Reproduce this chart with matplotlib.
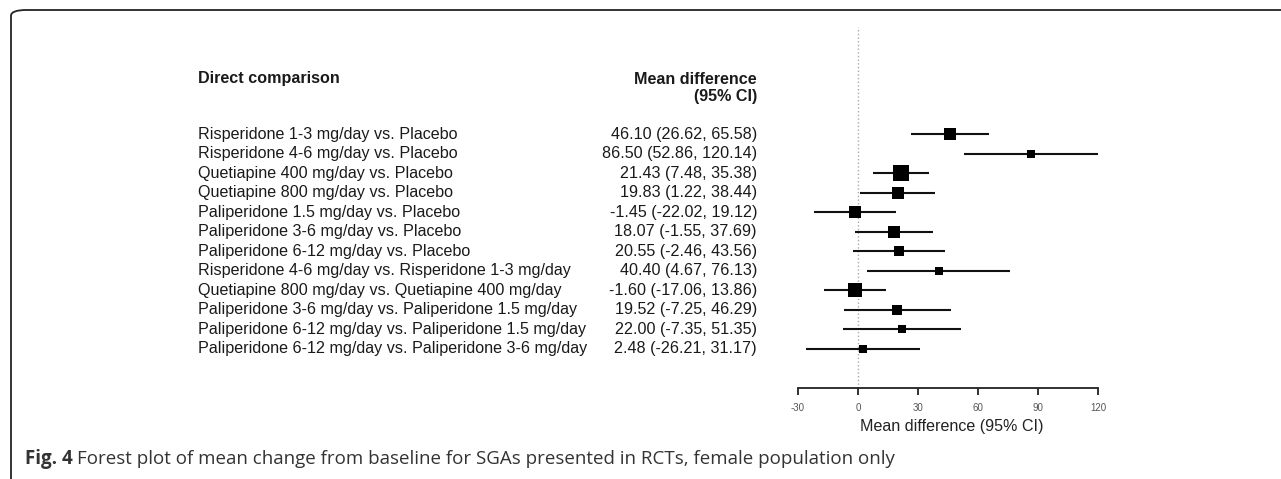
import matplotlib
matplotlib.use("Agg")
import matplotlib.pyplot as plt
from matplotlib.patches import FancyBboxPatch
from matplotlib.transforms import blended_transform_factory
import numpy as np

comparisons = [
    "Risperidone 1-3 mg/day vs. Placebo",
    "Risperidone 4-6 mg/day vs. Placebo",
    "Quetiapine 400 mg/day vs. Placebo",
    "Quetiapine 800 mg/day vs. Placebo",
    "Paliperidone 1.5 mg/day vs. Placebo",
    "Paliperidone 3-6 mg/day vs. Placebo",
    "Paliperidone 6-12 mg/day vs. Placebo",
    "Risperidone 4-6 mg/day vs. Risperidone 1-3 mg/day",
    "Quetiapine 800 mg/day vs. Quetiapine 400 mg/day",
    "Paliperidone 3-6 mg/day vs. Paliperidone 1.5 mg/day",
    "Paliperidone 6-12 mg/day vs. Paliperidone 1.5 mg/day",
    "Paliperidone 6-12 mg/day vs. Paliperidone 3-6 mg/day",
]
mean_diff = [46.10, 86.50, 21.43, 19.83, -1.45, 18.07, 20.55, 40.40, -1.60, 19.52, 22.00, 2.48]
ci_low = [26.62, 52.86, 7.48, 1.22, -22.02, -1.55, -2.46, 4.67, -17.06, -7.25, -7.35, -26.21]
ci_high = [65.58, 120.14, 35.38, 38.44, 19.12, 37.69, 43.56, 76.13, 13.86, 46.29, 51.35, 31.17]
weights = [12, 7, 15, 11, 11, 11, 10, 7, 14, 9, 8, 8]  # relative box weights
x_ticks = [-30, 0, 30, 60, 90, 120]
header_left = "Direct comparison"
header_right = ["Mean difference", "(95% CI)"]
x_label = "Mean difference (95% CI)"
caption_bold = "Fig. 4"
caption_text = "Forest plot of mean change from baseline for SGAs presented in RCTs, female population only"

W, H = 1281, 479
plt.rcParams['font.family'] = ['Liberation Sans', 'DejaVu Sans']
fig = plt.figure(figsize=(W / 100, H / 100), dpi=100)

def fx(px):
    return px / W

def fy(py):
    return 1 - py / H

# frame (top and left edges visible, rounded corners)
frame = FancyBboxPatch((fx(11), fy(484)), fx(W + 40 - 11), fy(10) - fy(484),
                       boxstyle="round,pad=0,rounding_size=0.012",
                       transform=fig.transFigure, fill=False,
                       edgecolor="#222222", linewidth=1.3, clip_on=False)
fig.patches.append(frame)

# axes
ax_left, ax_right = 798, 1098
ax_top, ax_bot = 27, 388
ax = fig.add_axes([fx(ax_left), fy(ax_bot), fx(ax_right - ax_left), fy(ax_top) - fy(ax_bot)])
row0, step = 134.3, 19.5
ax.set_xlim(-30, 120)
ax.set_ylim((ax_bot - row0) / step, (ax_top - row0) / step)
for s in ["top", "right", "left"]:
    ax.spines[s].set_visible(False)
ax.spines["bottom"].set_linewidth(1.3)
ax.spines["bottom"].set_color("#222222")
ax.set_yticks([])
ax.set_xticks(x_ticks)
ax.set_xticklabels([str(t) for t in x_ticks], fontsize=7, color="#555555")
ax.tick_params(axis="x", length=5, width=1.3, color="#222222", pad=6)
ax.patch.set_alpha(0)
fig.text(fx(952), fy(427), x_label, ha="center", va="center", fontsize=11.6, color="#222222")

ax.axvline(0, color="#aaaaaa", linestyle=":", linewidth=1.0, zorder=1)

ys = np.arange(len(comparisons))
for y, m, lo, hi, w in zip(ys, mean_diff, ci_low, ci_high, weights):
    ax.plot([lo, hi], [y, y], color="#111111", linewidth=1.5, zorder=2, solid_capstyle="butt")
    ax.plot([m], [y], marker="s", markersize=w * 0.74, color="black", zorder=3, markeredgewidth=0)

tr = blended_transform_factory(fig.transFigure, ax.transData)
tc = "#1a1a1a"
fs = 11.6
for y, lab, m, lo, hi in zip(ys, comparisons, mean_diff, ci_low, ci_high):
    ax.text(fx(198), y, lab, transform=tr, ha="left", va="center", fontsize=fs, color=tc)
    ax.text(fx(757), y, f"{m:.2f} ({lo:.2f}, {hi:.2f})", transform=tr, ha="right",
            va="center", fontsize=fs, color=tc)

fig.text(fx(198), fy(78), header_left, ha="left", va="center", fontsize=fs,
         fontweight="bold", color=tc)
fig.text(fx(757), fy(79), header_right[0], ha="right", va="center", fontsize=fs,
         fontweight="bold", color=tc)
fig.text(fx(757), fy(97), header_right[1], ha="right", va="center", fontsize=fs,
         fontweight="bold", color=tc)

# caption, sized to span the same width as the reference
cap_y = fy(459)
cap_fam = ["Open Sans", "DejaVu Sans"]
cap_x0, cap_x1 = 25, 893
cfs = 12.0
t1 = fig.text(fx(cap_x0), cap_y, caption_bold, ha="left", va="center", fontsize=cfs,
              fontweight="bold", color="#333333", family=cap_fam)
t2 = fig.text(0, cap_y, caption_text, ha="left", va="center", fontsize=cfs,
              color="#333333", family=cap_fam)
r = fig.canvas.get_renderer()
for _ in range(3):
    b1 = t1.get_window_extent(r)
    gap = cfs * 0.3
    t2.set_x((b1.x1 + gap) / W)
    b2 = t2.get_window_extent(r)
    total = b2.x1 - cap_x0
    cfs = cfs * (cap_x1 - cap_x0) / total
    t1.set_fontsize(cfs)
    t2.set_fontsize(cfs)
b1 = t1.get_window_extent(r)
t2.set_x((b1.x1 + cfs * 0.3) / W)

fig.savefig("out.png", dpi=100)
